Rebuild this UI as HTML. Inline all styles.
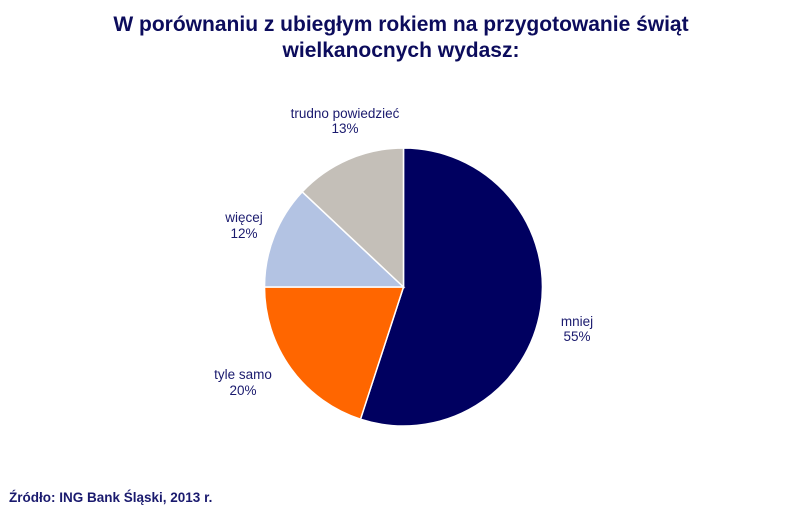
<!DOCTYPE html>
<html><head><meta charset="utf-8"><style>
body{margin:0;width:802px;height:517px;background:#fff;overflow:hidden;font-family:"Liberation Sans",Arial,sans-serif;}
</style></head><body>
<svg width="802" height="517" viewBox="0 0 802 517" xmlns="http://www.w3.org/2000/svg" font-family="Liberation Sans, Arial, sans-serif">
<text x="401" y="31" text-anchor="middle" font-size="21" font-weight="bold" fill="#0c0c5c">W porównaniu z ubiegłym rokiem na przygotowanie świąt</text>
<text x="401" y="57" text-anchor="middle" font-size="21" font-weight="bold" fill="#0c0c5c">wielkanocnych wydasz:</text>
<g stroke="#fff" stroke-width="1.5">
<path d="M403.5,287 L403.5,148 A139,139 0 1 1 360.5,419.2 Z" fill="#000060"/>
<path d="M403.5,287 L360.5,419.2 A139,139 0 0 1 264.5,287 Z" fill="#ff6600"/>
<path d="M403.5,287 L264.5,287 A139,139 0 0 1 302.2,191.8 Z" fill="#b3c3e3"/>
<path d="M403.5,287 L302.2,191.8 A139,139 0 0 1 403.5,148 Z" fill="#c4bfb8"/>
</g>
<g font-size="13.5" fill="#1a1a6e" text-anchor="middle">
<text x="345" y="118">trudno powiedzieć</text><text x="345" y="133">13%</text>
<text x="244" y="222">więcej</text><text x="244" y="238">12%</text>
<text x="577" y="326">mniej</text><text x="577" y="341">55%</text>
<text x="243" y="379">tyle samo</text><text x="243" y="395">20%</text>
</g>
<text x="9" y="502" font-size="13.5" font-weight="bold" fill="#1a1a6e">Źródło: ING Bank Śląski, 2013  r.</text>
</svg>
</body></html>
